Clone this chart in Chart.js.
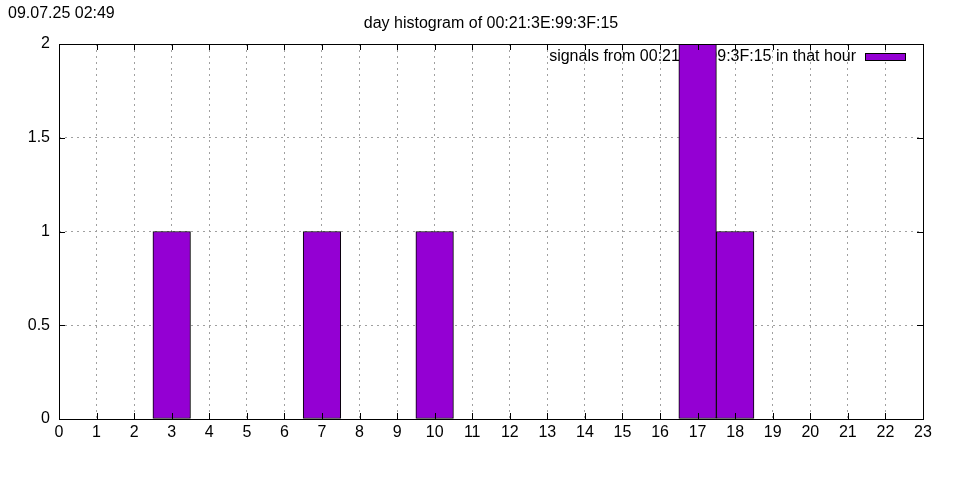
<!DOCTYPE html>
<html>
<head>
<meta charset="utf-8">
<script src="https://cdn.jsdelivr.net/npm/chart.js@4"></script>
<style>
  html, body { margin: 0; padding: 0; background: #fff; }
  #wrap { width: 960px; height: 480px; }
</style>
</head>
<body>
<div id="wrap"><canvas id="hist" width="960" height="480"></canvas></div>
<script>
// Stunden und Anzahl der Signale
const hours = [0, 1, 2, 3, 4, 5, 6, 7, 8, 9, 10, 11, 12, 13, 14, 15, 16, 17, 18, 19, 20, 21, 22, 23];
const counts = [0, 0, 0, 1, 0, 0, 0, 1, 0, 0, 1, 0, 0, 0, 0, 0, 0, 2, 1, 0, 0, 0, 0, 0];
const yTicks = [0, 0.5, 1, 1.5, 2];

const stamp = '09.07.25 02:49';
const title = 'day histogram of 00:21:3E:99:3F:15';
const seriesLabel = 'signals from 00:21:3E:99:3F:15 in that hour';

const FONT = '"Liberation Sans", Arial, sans-serif';
const barColor = '#9400d3';

// Titel, Legende, Rahmen und Innen-Ticks im gnuplot-Stil
const gnuplotLook = {
    id: 'gnuplotLook',
    beforeDatasetsDraw(chart) {
        const { ctx, chartArea: a } = chart;
        ctx.save();
        ctx.font = '16px ' + FONT;
        ctx.fillStyle = '#000';
        ctx.textAlign = 'right';
        ctx.textBaseline = 'alphabetic';
        ctx.fillText(seriesLabel, a.right - 67, a.top + 17);
        ctx.fillStyle = barColor;
        ctx.fillRect(a.right - 57, a.top + 10, 39, 6);
        ctx.strokeStyle = '#000';
        ctx.lineWidth = 1;
        ctx.strokeRect(a.right - 57.5, a.top + 9.5, 40, 7);
        ctx.restore();
    },
    afterDraw(chart) {
        const { ctx, chartArea: a, scales } = chart;
        ctx.save();
        ctx.strokeStyle = '#000';
        ctx.lineWidth = 1;
        ctx.beginPath();
        hours.forEach(h => {
            const x = Math.round(scales.x.getPixelForValue(h)) + 0.5;
            ctx.moveTo(x, a.bottom); ctx.lineTo(x, a.bottom - 6);
            ctx.moveTo(x, a.top); ctx.lineTo(x, a.top + 6);
        });
        yTicks.forEach(v => {
            const y = Math.round(scales.y.getPixelForValue(v)) + 0.5;
            ctx.moveTo(a.left, y); ctx.lineTo(a.left + 6, y);
            ctx.moveTo(a.right, y); ctx.lineTo(a.right - 6, y);
        });
        ctx.stroke();
        ctx.strokeRect(Math.round(a.left) + 0.5, Math.round(a.top) + 0.5,
            Math.round(a.right - a.left), Math.round(a.bottom - a.top));

        ctx.fillStyle = '#000';
        ctx.font = '16px ' + FONT;
        ctx.textAlign = 'left';
        ctx.textBaseline = 'alphabetic';
        ctx.fillText(stamp, 8, 18);
        ctx.textAlign = 'center';
        ctx.fillText(title, (a.left + a.right) / 2, 28);
        ctx.restore();
    }
};

new Chart(document.getElementById('hist'), {
    type: 'bar',
    data: {
        datasets: [{
            label: seriesLabel,
            data: hours.map((h, i) => ({ x: h, y: counts[i] })),
            backgroundColor: barColor,
            borderColor: '#000',
            borderWidth: 1,
            borderSkipped: false,
            barPercentage: 1,
            categoryPercentage: 1
        }]
    },
    options: {
        responsive: false,
        animation: false,
        events: [],
        layout: { padding: { left: 0, right: 37, top: 44, bottom: 0 } },
        plugins: {
            legend: { display: false },
            title: { display: false },
            tooltip: { enabled: false }
        },
        scales: {
            x: {
                type: 'linear',
                min: 0,
                max: 23,
                offset: false,
                afterFit: s => { s.height = 61; },
                ticks: { stepSize: 1, color: '#000', padding: 4, maxRotation: 0, autoSkip: false, font: { family: FONT, size: 16 } },
                grid: { offset: false, color: '#a0a0a0', lineWidth: 1, drawTicks: false },
                border: { display: false, dash: [2, 4] }
            },
            y: {
                min: 0,
                max: 2,
                afterFit: s => { s.width = 59; },
                afterBuildTicks: s => { s.ticks = yTicks.map(v => ({ value: v })); },
                ticks: { color: '#000', padding: 9, font: { family: FONT, size: 16 }, callback: v => String(v) },
                grid: { color: '#a0a0a0', lineWidth: 1, drawTicks: false },
                border: { display: false, dash: [2, 4] }
            }
        }
    },
    plugins: [gnuplotLook]
});
</script>
</body>
</html>
